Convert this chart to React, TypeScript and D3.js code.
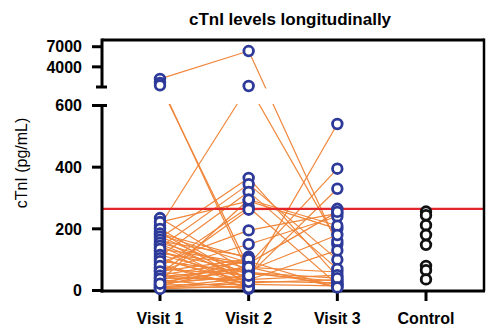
import React from "react";
import * as d3 from "d3";

const width = 486;
const height = 327;

const visits = ["Visit 1", "Visit 2", "Visit 3", "Control"];

// one entry per patient, null = no sample at that visit
const visit1 = [2200, 1600, 1250, 210, 235, 222, 190, 170, 160, 150, 140, 130, 120, 110, 100, 90, 85, 75, 70, 65, 60, 55, 50, 45, 40, 35, 30, 28, 25, 20, 18, 15, 12, 10, 8, 5, 180, 125, 200, 185, 175, 165, 155, 145, 135, 115, 105, 95, 80, 62, 48, 38, 22];
const visit2 = [6360, 55, 75, 1150, 60, 290, 20, 365, 110, 40, 345, 15, 85, 320, 30, 195, 10, 270, 50, 150, 25, 262, 95, 70, 35, 5, 295, 65, 45, 100, 20, 80, 10, 40, 30, 15, 90, 60, 35, 105, 50, 25, 70, 12, 88, 42, 18, 58, 8, 102, 28, 76, 48];
const visit3 = [150, 30, 60, 160, 20, 200, null, 45, null, 540, 100, null, 395, 70, null, 250, null, 20, 330, 240, null, 265, 10, null, 130, null, 210, 180, null, null, 15, null, null, null, 25, null, null, null, 50, null, null, 35, null, null, 255, null, null, 40, null, null, null, 10, null];
const control = [256, 244, 212, 180, 148, 80, 66, 36];

const lowerTicks = [0, 200, 400, 600];
const upperTicks = [4000, 7000];
const threshold = 265;

const left = 102;
const right = 484;
const top = 40;
const bottom = 291;
const gapTop = 87;
const gapBottom = 105.5;

const blue = "#2d3a9a";
const orange = "#f0863a";

const x = d3.scalePoint<string>().domain(visits).range([left, right]).padding(0.654);
const yLow = d3.scaleLinear().domain([0, 600]).range([290.5, gapBottom]);
const yHigh = d3.scaleLinear().domain([1000, 8000]).range([gapTop, top]);
const y = (v: number) => (v <= 600 ? yLow(v) : yHigh(v));

const line = d3
  .line<[string, number]>()
  .x((d) => x(d[0]) as number)
  .y((d) => y(d[1]));

export default function App() {
  const cols = [visit1, visit2, visit3];
  const paths: string[] = [];
  visit1.forEach((_, i) => {
    for (let k = 0; k < 2; k++) {
      const a = cols[k][i];
      const b = cols[k + 1][i];
      if (a != null && b != null) {
        paths.push(line([[visits[k], a], [visits[k + 1], b]]) as string);
      }
    }
  });

  const points: { v: string; val: number; c: string }[] = [];
  cols.forEach((col, k) =>
    col.forEach((val) => {
      if (val != null) points.push({ v: visits[k], val, c: blue });
    })
  );
  control.forEach((val) => points.push({ v: "Control", val, c: "#111" }));

  const font = "'Liberation Sans', Arial, Helvetica, sans-serif";

  return (
    <svg width={width} height={height} style={{ position: "absolute", left: 0, top: 0 }} fontFamily={font}>
      <defs>
        <clipPath id="plot">
          <rect x={left} y={top} width={right - left} height={bottom - top} />
        </clipPath>
      </defs>
      <rect width={width} height={height} fill="white" />

      <text x={290} y={25} textAnchor="middle" fontSize={17} fontWeight="bold">
        cTnI levels longitudinally
      </text>

      <g clipPath="url(#plot)">
        {paths.map((d, i) => (
          <path key={i} d={d} fill="none" stroke={orange} strokeWidth={1.2} />
        ))}
        <line x1={left} x2={right} y1={y(threshold)} y2={y(threshold)} stroke="#e3262b" strokeWidth={2.2} />
      </g>

      {/* axis break */}
      <rect x={left - 2} y={gapTop + 1.5} width={right - left} height={gapBottom - gapTop - 3} fill="white" />

      {/* frame */}
      <line x1={left} x2={right} y1={top} y2={top} stroke="black" strokeWidth={3} />
      <line x1={right} x2={right} y1={top - 1.5} y2={bottom} stroke="black" strokeWidth={2.5} />

      {/* left axis, upper segment */}
      <line x1={left} x2={left} y1={top - 1.5} y2={gapTop} stroke="black" strokeWidth={3} />
      <line x1={96} x2={107} y1={gapTop} y2={gapTop} stroke="black" strokeWidth={3} />
      {upperTicks.map((t) => (
        <g key={t}>
          <line x1={92} x2={left} y1={yHigh(t)} y2={yHigh(t)} stroke="black" strokeWidth={3} />
          <text x={82} y={yHigh(t)} dy="0.36em" textAnchor="end" fontSize={16} fontWeight="bold">
            {t}
          </text>
        </g>
      ))}

      {/* left axis, lower segment */}
      <line x1={left} x2={left} y1={gapBottom} y2={bottom + 1.5} stroke="black" strokeWidth={3} />
      <line x1={96} x2={107} y1={gapBottom} y2={gapBottom} stroke="black" strokeWidth={3} />
      {lowerTicks.map((t) => (
        <g key={t}>
          <line x1={92} x2={left} y1={yLow(t)} y2={yLow(t)} stroke="black" strokeWidth={3} />
          <text x={82} y={yLow(t)} dy="0.36em" textAnchor="end" fontSize={16} fontWeight="bold">
            {t}
          </text>
        </g>
      ))}

      <text transform="translate(27, 163) rotate(-90)" textAnchor="middle" fontSize={16}>
        cTnI (pg/mL)
      </text>

      {/* bottom axis */}
      <line x1={left - 1.5} x2={right + 1} y1={bottom} y2={bottom} stroke="black" strokeWidth={3} />
      {visits.map((v) => (
        <g key={v}>
          <line x1={x(v)} x2={x(v)} y1={bottom} y2={301} stroke="black" strokeWidth={3} />
          <text x={x(v)} y={324} textAnchor="middle" fontSize={16} fontWeight="bold">
            {v}
          </text>
        </g>
      ))}

      {points.map((p, i) => (
        <circle key={i} cx={x(p.v)} cy={y(p.val)} r={4.8} fill="white" stroke={p.c} strokeWidth={2.8} />
      ))}
    </svg>
  );
}
